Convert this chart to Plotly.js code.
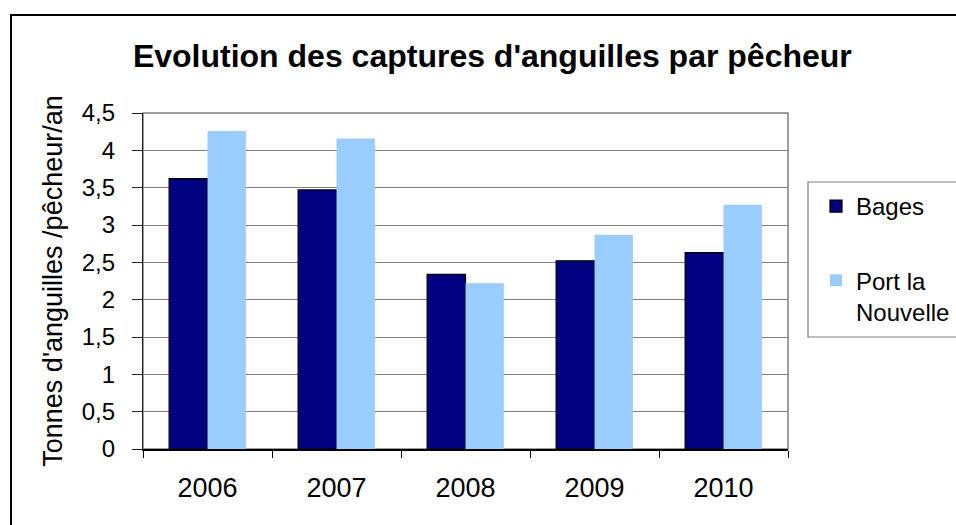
<!DOCTYPE html>
<html>
<head>
<meta charset="utf-8">
<script src="https://cdn.plot.ly/plotly-3.0.1.min.js"></script>
<style>
html,body{margin:0;padding:0;background:#fff;}
#chart{width:956px;height:525px;}
</style>
</head>
<body>
<div id="chart"></div>
<script>
const years = ["2006", "2007", "2008", "2009", "2010"];
const bages = [3.62, 3.47, 2.34, 2.52, 2.63];
const portLaNouvelle = [4.26, 4.16, 2.22, 2.87, 3.27];
const seriesNames = ["Bages", "Port la<br>Nouvelle"];
const yTicks = [0, 0.5, 1, 1.5, 2, 2.5, 3, 3.5, 4, 4.5];

const font = "Arial, 'Liberation Sans', sans-serif";

const traces = [
  {
    type: "bar", x: years, y: bages, name: seriesNames[0], legendgroup: "a",
    marker: {color: "#000080", line: {color: "#000000", width: 1.2}}
  },
  {
    type: "bar", x: years, y: portLaNouvelle, name: seriesNames[1], legendgroup: "b",
    marker: {color: "#99CCFF", line: {color: "#99CCFF", width: 0}}
  }
];

const layout = {
  width: 956, height: 525,
  margin: {l: 143, r: 168, t: 113, b: 76},
  paper_bgcolor: "#ffffff", plot_bgcolor: "#ffffff",
  separators: ", ",
  font: {family: font, size: 24, color: "#000"},
  showlegend: true,
  barmode: "group", bargap: 0.405, bargroupgap: 0,
  title: {
    text: "<b>Evolution des captures d'anguilles par pêcheur</b>",
    font: {family: font, size: 32, color: "#000"},
    xref: "container", yref: "container",
    x: 0.515, xanchor: "center", y: 1 - 56/525, yanchor: "middle"
  },
  xaxis: {
    type: "category",
    showgrid: false,
    showline: true, linecolor: "#000", linewidth: 1.5,
    ticks: "outside", tickson: "boundaries", ticklen: 7, tickcolor: "#000", tickwidth: 1,
    ticklabelstandoff: 14,
    tickfont: {family: font, size: 27, color: "#000"},
    zeroline: false
  },
  yaxis: {
    range: [0, 4.5],
    tickvals: yTicks,
    showgrid: true, gridcolor: "#808080", gridwidth: 1,
    showline: true, linecolor: "#222", linewidth: 1.2,
    ticks: "outside", ticklen: 10, tickcolor: "#222",
    ticklabelstandoff: 12,
    tickfont: {family: font, size: 24, color: "#000"},
    zeroline: false,
    title: {text: "Tonnes d'anguilles /pêcheur/an", font: {family: font, size: 27, color: "#000"}, standoff: 11}
  },
  legend: {
    xref: "container", yref: "container",
    x: 816/956, xanchor: "left", y: 1 - 184/525, yanchor: "top",
    borderwidth: 0, bgcolor: "rgba(0,0,0,0)",
    font: {family: font, size: 24, color: "#000"},
    traceorder: "grouped", tracegroupgap: 40, valign: "top",
    itemwidth: 30
  },
  shapes: [
    {type: "rect", xref: "paper", yref: "paper", x0: 0, x1: 1, y0: 0, y1: 1,
     line: {color: "#808080", width: 1.5}, layer: "below"},
    {type: "rect", xref: "paper", yref: "paper",
     x0: (808 - 143)/645, x1: (975 - 143)/645, y0: (449 - 182)/336, y1: (449 - 337)/336,
     fillcolor: "#ffffff", line: {color: "#808080", width: 1.2}, layer: "below"},
    {type: "rect", xref: "paper", yref: "paper",
     x0: (11 - 143)/645, x1: (980 - 143)/645, y0: (449 - 15)/336, y1: (449 - 560)/336,
     line: {color: "#000", width: 2}, layer: "above"}
  ]
};

Plotly.newPlot("chart", traces, layout, {displayModeBar: false, staticPlot: true});
</script>
</body>
</html>
